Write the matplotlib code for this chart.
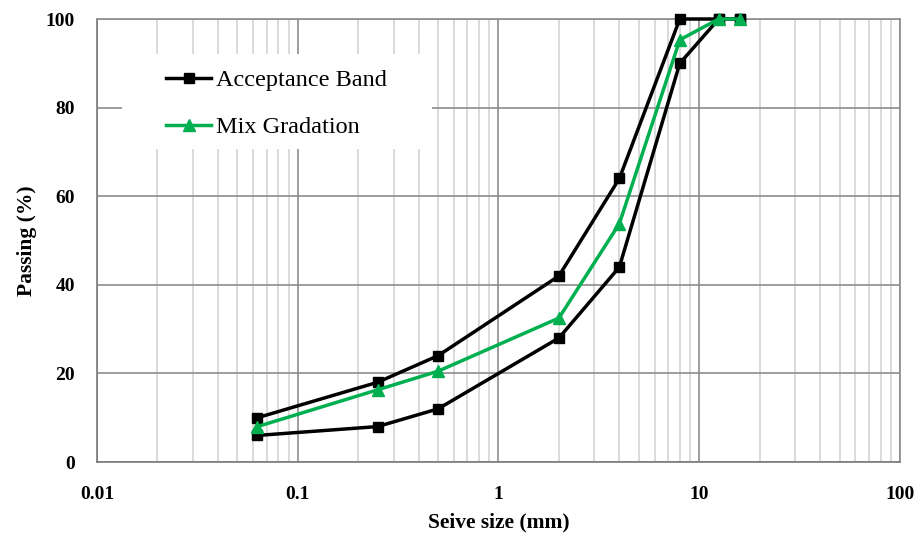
import matplotlib
matplotlib.use("Agg")
import matplotlib.pyplot as plt
from matplotlib.patches import Rectangle
from matplotlib.ticker import LogLocator, NullFormatter, FixedLocator, FixedFormatter

# Sieve sizes (mm) and passing percentages
sieve_mm = [0.063, 0.25, 0.5, 2, 4, 8, 12.5, 16]
upper_band = [10, 18, 24, 42, 64, 100, 100, 100]
lower_band = [6, 8, 12, 28, 44, 90, 100, 100]
mix_gradation = [8, 16.3, 20.5, 32.5, 53.8, 95.3, 100, 100]

x_ticks = [0.01, 0.1, 1, 10, 100]
x_tick_labels = ["0.01", "0.1", "1", "10", "100"]
y_ticks = [0, 20, 40, 60, 80, 100]

plt.rcParams["font.family"] = ["Liberation Serif", "DejaVu Serif"]

fig = plt.figure(figsize=(9.21, 5.34), dpi=100)
ax = fig.add_axes([0.1053, 0.1348, 0.8719, 0.8296])

ax.set_xscale("log")
ax.set_xlim(0.01, 100)
ax.set_ylim(0, 100)

ax.plot(sieve_mm, upper_band, color="black", lw=2.5, marker="s", ms=7,
        label="Acceptance Band", clip_on=False, zorder=4)
ax.plot(sieve_mm, lower_band, color="black", lw=2.5, marker="s", ms=7,
        clip_on=False, zorder=4)
ax.plot(sieve_mm, mix_gradation, color="#00b050", lw=2.5, marker="^", ms=8,
        label="Mix Gradation", clip_on=False, zorder=5)

ax.xaxis.set_major_locator(FixedLocator(x_ticks))
ax.xaxis.set_major_formatter(FixedFormatter(x_tick_labels))
ax.xaxis.set_minor_locator(LogLocator(base=10, subs=range(2, 10)))
ax.xaxis.set_minor_formatter(NullFormatter())
ax.set_yticks(y_ticks)

ax.grid(which="major", axis="both", color="#8c8c8c", lw=1.2, zorder=0)
ax.grid(which="minor", axis="x", color="#d4d4d4", lw=1.2, zorder=0)
ax.set_axisbelow(True)

for s in ax.spines.values():
    s.set_color("#8c8c8c")
    s.set_linewidth(1.2)
ax.spines["left"].set_color("#7a7a7a")
ax.spines["bottom"].set_color("#7a7a7a")

ax.tick_params(which="both", length=0)
ax.tick_params(axis="y", pad=16)
ax.tick_params(axis="x", pad=17)
for lbl in ax.get_xticklabels() + ax.get_yticklabels():
    lbl.set_fontweight("bold")
    lbl.set_fontsize(14)

ax.set_xlabel("Seive size (mm)", fontsize=15.5, fontweight="bold", labelpad=7)
ax.set_ylabel("Passing (%)", fontsize=15.5, fontweight="bold", labelpad=6)

# white panel behind the legend
ax.add_patch(Rectangle((0.031, 0.7065), 0.386, 0.2145, transform=ax.transAxes,
                       facecolor="white", edgecolor="none", zorder=1))

leg = ax.legend(loc="upper left", bbox_to_anchor=(0.086, 0.887), frameon=False,
                fontsize=17.5, handlelength=1.85, handletextpad=0.2,
                borderpad=0, labelspacing=1.04, borderaxespad=0)
leg.set_zorder(6)

fig.savefig("out.png", dpi=100)
